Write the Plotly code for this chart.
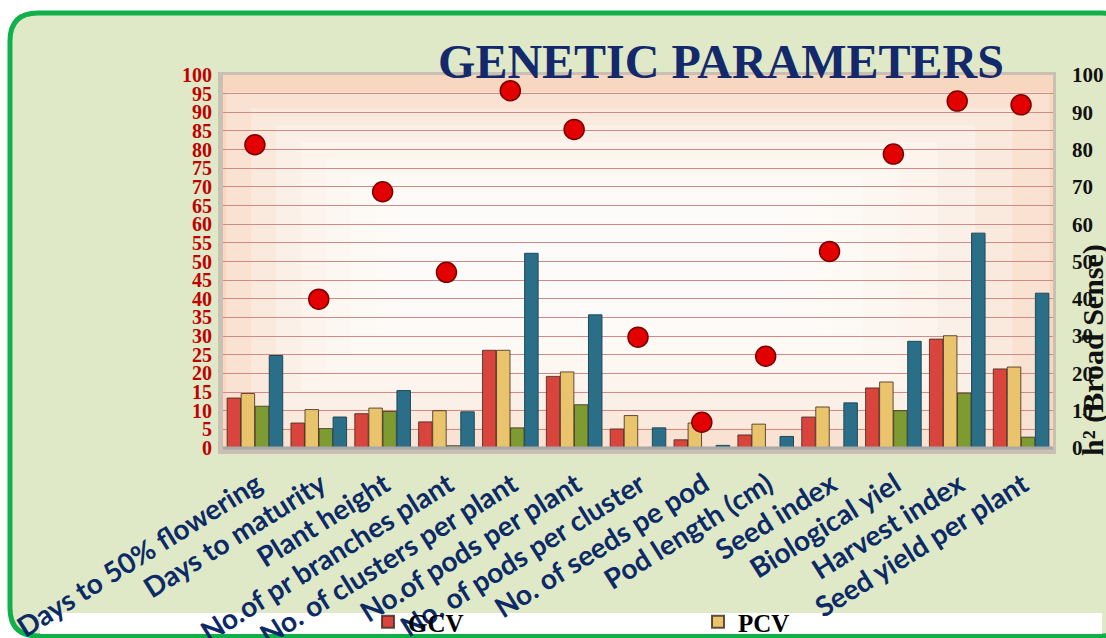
import plotly.graph_objects as go

categories = ["Days to 50% flowering", "Days to maturity", "Plant height",
              "No.of pr branches plant", "No. of clusters per plant",
              "No.of pods per plant", "No. of pods per cluster",
              "No. of seeds pe pod", "Pod length (cm)", "Seed index",
              "Biological yiel", "Harvest index", "Seed yield per plant"]
gcv = [13.4, 6.7, 9.2, 7.0, 26.2, 19.2, 5.1, 2.2, 3.5, 8.3, 16.1, 29.2, 21.2]
pcv = [14.6, 10.3, 10.7, 10.0, 26.2, 20.4, 8.7, 6.7, 6.4, 11.0, 17.7, 30.1, 21.7]
ga = [11.2, 5.2, 9.8, 0.6, 5.4, 11.6, 0.0, 0.0, 0.0, 0.0, 10.0, 14.7, 2.9]
gam = [24.8, 8.3, 15.4, 9.7, 52.2, 35.7, 5.4, 0.7, 3.1, 12.1, 28.6, 57.6, 41.5]
h2 = [81.3, 39.9, 68.7, 47.1, 95.8, 85.4, 29.7, 6.9, 24.6, 52.7, 78.8, 93.0, 92.0]
left_ticks = list(range(0, 101, 5))
right_ticks = list(range(0, 101, 10))

W, H = 1106, 638
L, R, T, B = 223, 1053, 75, 448


def px(x):
    return (x - L) / (R - L)


def py(y):
    return (B - y) / (B - T)


def rounded_path(xa, ya, xb, yb, rad):
    pts = [
        f"M {px(xa + rad)},{py(ya)}",
        f"L {px(xb - rad)},{py(ya)}",
        f"Q {px(xb)},{py(ya)} {px(xb)},{py(ya + rad)}",
        f"L {px(xb)},{py(yb - rad)}",
        f"Q {px(xb)},{py(yb)} {px(xb - rad)},{py(yb)}",
        f"L {px(xa + rad)},{py(yb)}",
        f"Q {px(xa)},{py(yb)} {px(xa)},{py(yb - rad)}",
        f"L {px(xa)},{py(ya + rad)}",
        f"Q {px(xa)},{py(ya)} {px(xa + rad)},{py(ya)}",
        "Z",
    ]
    return " ".join(pts)


fig = go.Figure()
edge = "rgba(60,40,30,0.8)"
fig.add_trace(go.Bar(x=categories, y=gcv, name="GCV",
                     marker=dict(color="#d9453c", line=dict(color=edge, width=1))))
fig.add_trace(go.Bar(x=categories, y=pcv, name="PCV",
                     marker=dict(color="#e9c46c", line=dict(color=edge, width=1))))
fig.add_trace(go.Bar(x=categories, y=ga, name="GA", showlegend=False,
                     marker=dict(color="#7d9b30", line=dict(color=edge, width=1))))
fig.add_trace(go.Bar(x=categories, y=gam, name="GAM", showlegend=False,
                     marker=dict(color="#2b6e87", line=dict(color="#1c4a5c", width=1))))
fig.add_trace(go.Scatter(x=categories, y=h2, name="h² (Broad Sense)", yaxis="y2",
                         mode="markers", showlegend=False,
                         marker=dict(size=20, color="#e30000",
                                     line=dict(color="#7a0000", width=1.5))))

shapes = []
# card background
shapes.append(dict(type="path", xref="paper", yref="paper",
                   path=rounded_path(10, 13, 1130, 636, 28),
                   fillcolor="#dfe9c8", line=dict(color="#10b04a", width=5), layer="below"))
shapes.append(dict(type="rect", xref="paper", yref="paper", x0=px(40), x1=px(1102), y0=py(634), y1=py(613),
                   fillcolor="#ffffff", line=dict(width=0), layer="below"))
# plot area frame & background (soft radial-like gradient from stacked rects)
shapes.append(dict(type="rect", xref="paper", yref="paper", x0=px(L - 5), x1=px(R + 3), y0=py(B + 6), y1=py(T - 3),
                   fillcolor="#c9bfb2", line=dict(width=0), layer="below"))
shapes.append(dict(type="rect", xref="paper", yref="paper", x0=0, x1=1, y0=0, y1=1,
                   fillcolor="#f7d7bf", line=dict(width=0), layer="below"))
for k in range(8):
    shapes.append(dict(type="rect", xref="paper", yref="paper",
                       x0=0.004 + 0.03 * k, x1=0.996 - 0.045 * k,
                       y0=0.004 + 0.05 * k, y1=0.955 - 0.045 * k,
                       fillcolor="#ffffff", opacity=0.28, line=dict(width=0), layer="below"))
shapes.append(dict(type="line", xref="paper", yref="paper", x0=0, x1=1, y0=0, y1=0,
                   line=dict(color="#a8a8a8", width=3), layer="above"))

fig.update_layout(
    width=W, height=H,
    margin=dict(l=L, r=W - R, t=T, b=H - B, autoexpand=False),
    paper_bgcolor="#ffffff", plot_bgcolor="rgba(0,0,0,0)",
    barmode="group", bargap=0.12, bargroupgap=0.04,
    shapes=shapes,
    title=dict(text="<b>GENETIC PARAMETERS</b>", xref="container", x=721 / W, xanchor="center",
               y=1 - 61 / H, yanchor="middle",
               font=dict(family="Liberation Serif", size=48, color="#13296b")),
    xaxis=dict(type="category", range=[-0.5, 12.5], tickangle=-32, showgrid=False, ticks="",
               automargin=False, ticklabelshift=2, ticklabelstandoff=14,
               tickfont=dict(family="Lato", size=28, color="#0c2a66", weight="bold"),
               showline=False),
    yaxis=dict(range=[0, 100], tickvals=left_ticks, showgrid=True, gridcolor="#d38a86",
               gridwidth=1, zeroline=False, ticks="", automargin=False, ticklabelstandoff=10,
               tickfont=dict(family="Liberation Serif", size=20, color="#c00000", weight="bold")),
    yaxis2=dict(range=[0, 100], tickvals=right_ticks, overlaying="y", side="right",
                showgrid=False, zeroline=False, ticks="", ticklabelstandoff=18, automargin=False,
                tickfont=dict(family="Liberation Serif", size=21, color="#111111", weight="bold")),
    legend=dict(orientation="h", x=px(368), y=py(622), xanchor="left", yanchor="middle",
                entrywidth=285, entrywidthmode="pixels", bgcolor="rgba(0,0,0,0)",
                font=dict(family="Liberation Serif", size=25, color="#000000", weight="bold"),
                traceorder="normal", itemsizing="constant"),
    annotations=[dict(text="<b>h² (Broad Sense)</b>", xref="paper", yref="paper",
                      x=px(1093), y=py(350), textangle=-90, showarrow=False,
                      xanchor="center", yanchor="middle",
                      font=dict(family="Liberation Serif", size=30, color="#111111"))],
)

fig.write_html("out.html", config={"displayModeBar": False},
               post_script="document.body.style.margin='0';document.body.style.overflow='hidden';")
